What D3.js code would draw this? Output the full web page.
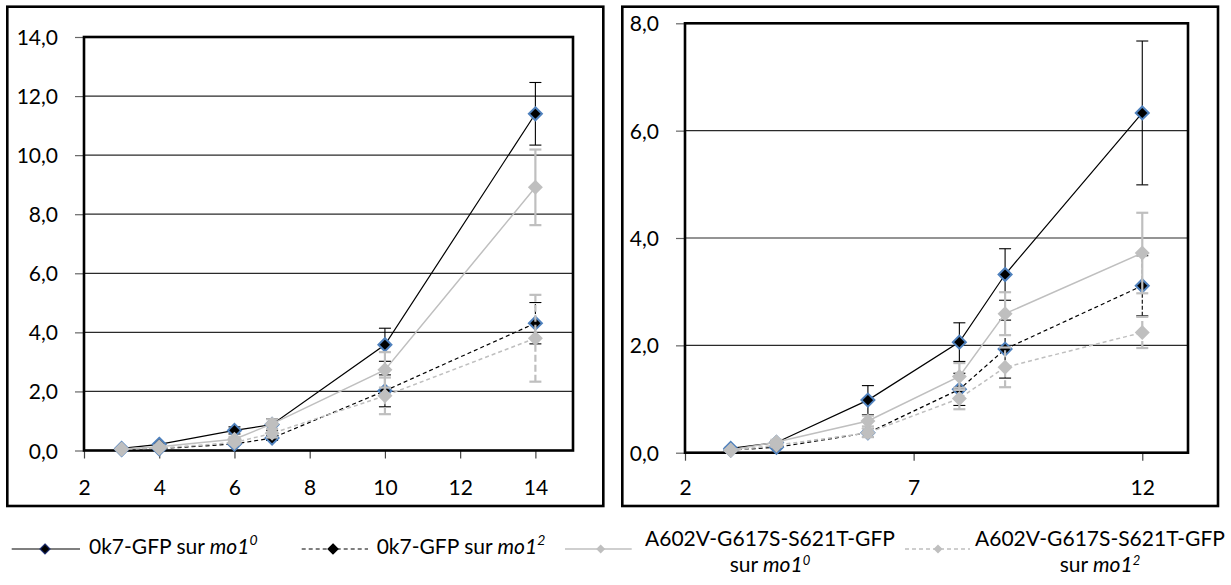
<!DOCTYPE html>
<html>
<head>
<meta charset="utf-8">
<script src="https://cdn.jsdelivr.net/npm/d3@7"></script>
<style>
  body { margin: 0; background: #fff; }
  svg text { font-family: Lato, "Open Sans", "DejaVu Sans", sans-serif; fill: #000; }
</style>
</head>
<body>
<svg id="chart" width="1231" height="585"></svg>
<script>
// ---- Data: left panel (days 3..14) ----
const leftDays      = [3, 4, 6, 7, 10, 14];
const leftOk7Mo10   = [0.07, 0.21, 0.68, 0.88, 3.58, 11.40];
const leftOk7Mo10E  = [0.02, 0.03, 0.12, 0.20, 0.56, 1.06];
const leftOk7Mo12   = [0.03, 0.06, 0.22, 0.42, 2.02, 4.31];
const leftOk7Mo12E  = [0.01, 0.02, 0.05, 0.08, 0.54, 0.70];
const leftMutMo10   = [0.05, 0.13, 0.38, 0.90, 2.73, 8.91];
const leftMutMo10E  = [0.01, 0.03, 0.08, 0.16, 0.60, 1.28];
const leftMutMo12   = [0.04, 0.08, 0.27, 0.58, 1.85, 3.80];
const leftMutMo12E  = [0.01, 0.02, 0.06, 0.14, 0.62, 1.47];
const leftXTicks    = [2, 4, 6, 8, 10, 12, 14];
const leftYTicks    = [0, 2, 4, 6, 8, 10, 12, 14];

// ---- Data: right panel (days 3..12) ----
const rightDays     = [3, 4, 6, 8, 9, 12];
const rightOk7Mo10  = [0.08, 0.19, 0.98, 2.06, 3.32, 6.33];
const rightOk7Mo10E = [0.02, 0.03, 0.27, 0.36, 0.48, 1.34];
const rightOk7Mo12  = [0.05, 0.10, 0.37, 1.18, 1.93, 3.11];
const rightOk7Mo12E = [0.01, 0.02, 0.08, 0.30, 0.54, 0.56];
const rightMutMo10  = [0.05, 0.20, 0.59, 1.42, 2.59, 3.72];
const rightMutMo10E = [0.01, 0.04, 0.10, 0.25, 0.40, 0.75];
const rightMutMo12  = [0.04, 0.14, 0.37, 1.01, 1.59, 2.24];
const rightMutMo12E = [0.01, 0.03, 0.08, 0.20, 0.37, 0.29];
const rightXTicks   = [2, 7, 12];
const rightYTicks   = [0, 2, 4, 6, 8];

// ---- Legend labels ----
const legendNames = ["0k7-GFP sur ", "0k7-GFP sur ", "A602V-G617S-S621T-GFP", "A602V-G617S-S621T-GFP"];
const legendSup   = ["0", "2", "0", "2"];

// ---- Series styles ----
const GREY = "#bfbfbf";
const styles = [
  { line: "#000", lw: 1.2, dash: null,  mFill: "#000", mStroke: "#4f81bd", mSW: 2, mR: 6.5, eColor: "#000", eW: 1.1, eDash: null, legStroke: "#1f2f6f" },
  { line: "#000", lw: 1.2, dash: "4,3", mFill: "#000", mStroke: "#4f81bd", mSW: 2, mR: 6.5, eColor: "#000", eW: 1.1, eDash: "4,2", legStroke: "#000" },
  { line: GREY,   lw: 1.5, dash: null,  mFill: GREY,   mStroke: "none",    mSW: 0, mR: 7.5, eColor: GREY,   eW: 2.2, eDash: null, legStroke: "none" },
  { line: GREY,   lw: 1.5, dash: "4,3", mFill: GREY,   mStroke: "none",    mSW: 0, mR: 7.5, eColor: GREY,   eW: 2.2, eDash: "7,3", legStroke: "none" }
];

const fmtY = d => d3.format(".1f")(d).replace(".", ",");
const svg = d3.select("#chart");

const panels = [
  {
    box: { x: 7.3, y: 6.7, w: 596, h: 499.3 },
    plot: { left: 84, right: 573, top: 37, bottom: 450.5 },
    xDomain: [2, 15], yDomain: [0, 14], xTicks: leftXTicks, yTicks: leftYTicks,
    days: leftDays,
    series: [[leftOk7Mo10, leftOk7Mo10E], [leftOk7Mo12, leftOk7Mo12E], [leftMutMo10, leftMutMo10E], [leftMutMo12, leftMutMo12E]]
  },
  {
    box: { x: 622.3, y: 6.7, w: 595.7, h: 499.3 },
    plot: { left: 685, right: 1188, top: 23.3, bottom: 452.7 },
    xDomain: [2, 13], yDomain: [0, 8], xTicks: rightXTicks, yTicks: rightYTicks,
    days: rightDays,
    series: [[rightOk7Mo10, rightOk7Mo10E], [rightOk7Mo12, rightOk7Mo12E], [rightMutMo10, rightMutMo10E], [rightMutMo12, rightMutMo12E]]
  }
];

function diamond(r) {
  return `M0,${-r}L${r},0L0,${r}L${-r},0Z`;
}

panels.forEach(p => {
  const g = svg.append("g");
  const x = d3.scaleLinear().domain(p.xDomain).range([p.plot.left, p.plot.right]);
  const y = d3.scaleLinear().domain(p.yDomain).range([p.plot.bottom, p.plot.top]);

  // chart frame
  g.append("rect")
    .attr("x", p.box.x).attr("y", p.box.y).attr("width", p.box.w).attr("height", p.box.h)
    .attr("fill", "#fff").attr("stroke", "#000").attr("stroke-width", 2.6);

  // horizontal gridlines
  g.append("g").selectAll("line")
    .data(p.yTicks.filter(t => t > p.yDomain[0] && t < p.yDomain[1]))
    .join("line")
    .attr("x1", p.plot.left).attr("x2", p.plot.right)
    .attr("y1", d => y(d)).attr("y2", d => y(d))
    .attr("stroke", "#2a2a2a").attr("stroke-width", 1.2);

  // y axis
  const ya = g.append("g")
    .attr("transform", `translate(${p.plot.left},0)`)
    .call(d3.axisLeft(y).tickValues(p.yTicks).tickFormat(fmtY).tickSize(9).tickPadding(17));
  ya.select(".domain").remove();
  ya.selectAll(".tick line").attr("stroke", "#666").attr("stroke-width", 1.2);
  ya.selectAll(".tick text").style("font-size", "21px").attr("dy", "0.36em");

  // x axis
  const xa = g.append("g")
    .attr("transform", `translate(0,${p.plot.bottom})`)
    .call(d3.axisBottom(x).tickValues(p.xTicks).tickFormat(d3.format("d")).tickSize(8));
  xa.select(".domain").remove();
  xa.selectAll(".tick line").attr("stroke", "#444").attr("stroke-width", 1.2);
  xa.selectAll(".tick text").style("font-size", "21px")
    .attr("y", 495 - p.plot.bottom).attr("dy", 0);

  // plot area border
  g.append("rect")
    .attr("x", p.plot.left).attr("y", p.plot.top)
    .attr("width", p.plot.right - p.plot.left).attr("height", p.plot.bottom - p.plot.top)
    .attr("fill", "none").attr("stroke", "#000").attr("stroke-width", 2.6);

  // series: error bars, line, markers
  p.series.forEach(([vals, errs], si) => {
    const st = styles[si];
    const pts = p.days.map((d, i) => ({ d, v: vals[i], e: errs[i] }));
    const sg = g.append("g");

    const eb = sg.append("g").attr("stroke", st.eColor).attr("stroke-width", st.eW);
    eb.selectAll("line.v").data(pts).join("line").attr("class", "v")
      .attr("x1", q => x(q.d)).attr("x2", q => x(q.d))
      .attr("y1", q => y(q.v - q.e)).attr("y2", q => y(q.v + q.e))
      .attr("stroke-dasharray", st.eDash);
    eb.selectAll("line.t").data(pts).join("line").attr("class", "t")
      .attr("x1", q => x(q.d) - 6).attr("x2", q => x(q.d) + 6)
      .attr("y1", q => y(q.v + q.e)).attr("y2", q => y(q.v + q.e));
    eb.selectAll("line.b").data(pts).join("line").attr("class", "b")
      .attr("x1", q => x(q.d) - 6).attr("x2", q => x(q.d) + 6)
      .attr("y1", q => y(q.v - q.e)).attr("y2", q => y(q.v - q.e));

    sg.append("path").datum(pts)
      .attr("d", d3.line().x(q => x(q.d)).y(q => y(q.v)))
      .attr("fill", "none").attr("stroke", st.line).attr("stroke-width", st.lw)
      .attr("stroke-dasharray", st.dash);

    sg.selectAll("path.m").data(pts).join("path").attr("class", "m")
      .attr("d", diamond(st.mR))
      .attr("transform", q => `translate(${x(q.d)},${y(q.v)})`)
      .attr("fill", st.mFill).attr("stroke", st.mStroke).attr("stroke-width", st.mSW);
  });
});

// ---- Legend ----
const legendItems = [
  { x1: 11.7, x2: 80,   mx: 45,    textX: 89,    twoLines: false },
  { x1: 301.7, x2: 368, mx: 333,   textX: 376.7, twoLines: false },
  { x1: 565,  x2: 631.7, mx: 600.7, textX: 645,  twoLines: true },
  { x1: 905,  x2: 970,  mx: 938,   textX: 975,   twoLines: true }
];
const legY = 549;
const lg = svg.append("g");

function addMoLabel(parent, supText, size, raise) {
  parent.append("tspan").attr("font-style", "italic").text("mo1");
  parent.append("tspan").attr("font-style", "italic").attr("font-size", size + "px")
    .attr("dy", -raise).text(supText);
}

legendItems.forEach((it, i) => {
  const st = styles[i];
  lg.append("line").attr("x1", it.x1).attr("x2", it.x2).attr("y1", legY).attr("y2", legY)
    .attr("stroke", st.line).attr("stroke-width", st.lw).attr("stroke-dasharray", st.dash);
  lg.append("path").attr("d", diamond(i < 2 ? 5 : 4.5))
    .attr("transform", `translate(${it.mx},${legY})`)
    .attr("fill", st.mFill).attr("stroke", st.legStroke).attr("stroke-width", 1.2);

  if (!it.twoLines) {
    const t = lg.append("text").attr("x", it.textX).attr("y", 553.5).style("font-size", "21px");
    t.append("tspan").text(legendNames[i]);
    addMoLabel(t, legendSup[i], 14, 9);
  } else {
    // name on the first row, "sur mo1" centred underneath
    const t1 = lg.append("text").attr("x", it.textX).attr("y", 546).style("font-size", "21px")
      .text(legendNames[i]);
    const w = t1.node().getComputedTextLength();
    const t2 = lg.append("text").attr("x", it.textX + w / 2).attr("y", 572)
      .attr("text-anchor", "middle").style("font-size", "21px");
    t2.append("tspan").text("sur ");
    addMoLabel(t2, legendSup[i], 13, 7.5);
  }
});
</script>
</body>
</html>
